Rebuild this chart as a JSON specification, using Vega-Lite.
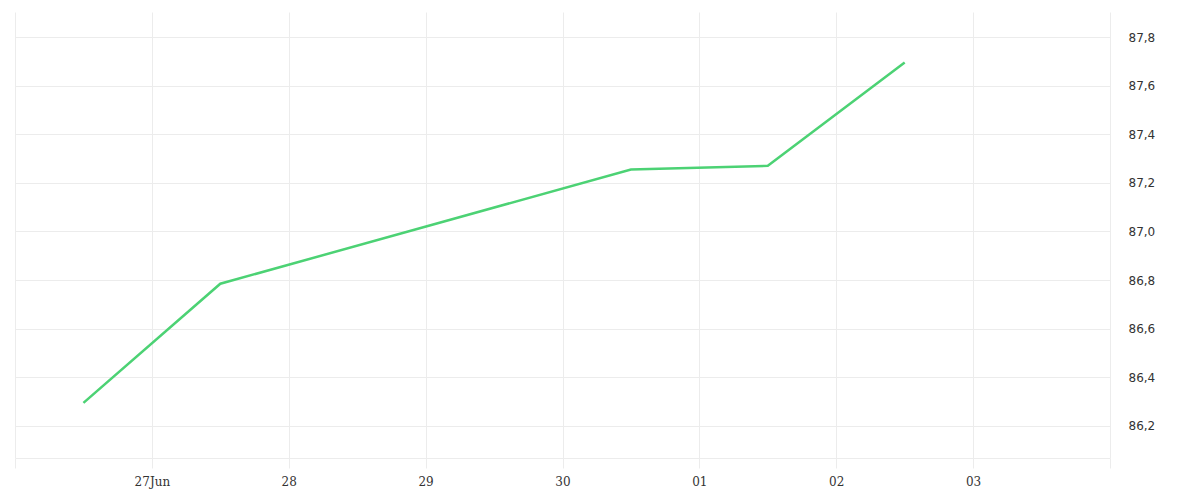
{
  "$schema": "https://vega.github.io/schema/vega-lite/v6.json",
  "width": 1095,
  "height": 446,
  "autosize": "none",
  "padding": {"left": 15, "top": 12, "right": 90, "bottom": 42},
  "background": "white",
  "config": {"view": {"stroke": null}},
  "data": {
    "values": [
      {"date": "2024-06-26T12:00:00Z", "value": 86.295},
      {"date": "2024-06-27T12:00:00Z", "value": 86.785},
      {"date": "2024-06-30T12:00:00Z", "value": 87.255},
      {"date": "2024-07-01T12:00:00Z", "value": 87.27},
      {"date": "2024-07-02T12:00:00Z", "value": 87.695}
    ]
  },
  "mark": {"type": "line", "color": "#4cd274", "strokeWidth": 2.5},
  "encoding": {
    "x": {
      "field": "date",
      "type": "temporal",
      "scale": {
        "type": "utc",
        "domain": [
          {"year": 2024, "month": 6, "date": 26, "utc": true},
          {"year": 2024, "month": 7, "date": 4, "utc": true}
        ]
      },
      "axis": {
        "title": null,
        "tickCount": {"interval": "day", "step": 1},
        "grid": true,
        "gridColor": "#ececec",
        "gridWidth": 1,
        "domain": true,
        "domainColor": "#ececec",
        "ticks": true,
        "tickColor": "#ececec",
        "tickSize": 10,
        "labelPadding": 8,
        "labelFont": "DejaVu Serif",
        "labelFontSize": 12,
        "labelColor": "#333333",
        "labelFlush": false,
        "labelOverlap": false,
        "labelExpr": "utcdate(datum.value) == 26 || utcdate(datum.value) == 4 ? '' : (utcdate(datum.value) == 27 ? utcFormat(datum.value, '%d%b') : utcFormat(datum.value, '%d'))"
      }
    },
    "y": {
      "field": "value",
      "type": "quantitative",
      "scale": {"domain": [86.068, 87.903], "nice": false, "zero": false},
      "axis": {
        "title": null,
        "orient": "right",
        "values": [86.2, 86.4, 86.6, 86.8, 87.0, 87.2, 87.4, 87.6, 87.8],
        "grid": true,
        "gridColor": "#ececec",
        "domain": false,
        "ticks": false,
        "labelPadding": 18,
        "labelFont": "DejaVu Sans",
        "labelFontSize": 12,
        "labelColor": "#333333",
        "labelExpr": "replace(format(datum.value, '.1f'), '.', ',')"
      }
    }
  }
}
